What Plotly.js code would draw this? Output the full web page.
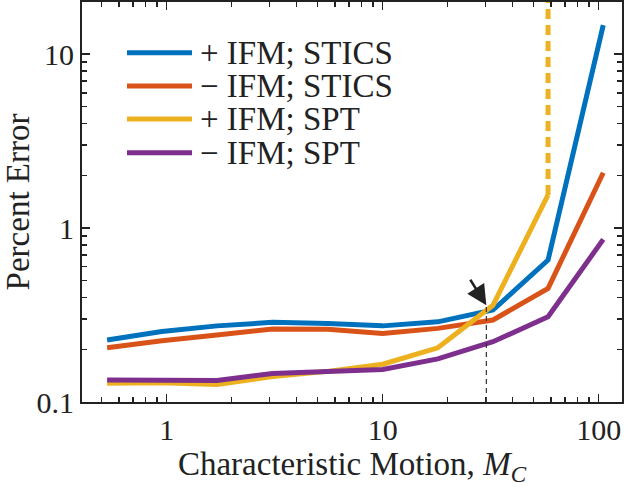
<!DOCTYPE html>
<html>
<head>
<meta charset="utf-8">
<script src="https://cdn.plot.ly/plotly-3.0.1.min.js"></script>
<style>html,body{margin:0;padding:0;background:#fff;}#chart{width:626px;height:487px;}</style>
</head>
<body>
<div id="chart"></div>
<script>
// Characteristic motion values (x)
var motion = [0.53, 0.95, 1.71, 3.09, 5.56, 10, 18, 32.4, 58.3, 105];
// Percent error series
var plusStics  = [0.227, 0.254, 0.274, 0.287, 0.283, 0.274, 0.289, 0.338, 0.655, 14.7];
var minusStics = [0.205, 0.225, 0.243, 0.263, 0.262, 0.248, 0.265, 0.296, 0.45, 2.08];
var plusSpt    = [0.128, 0.129, 0.126, 0.140, 0.150, 0.165, 0.205, 0.36, 1.55];
var minusSpt   = [0.134, 0.134, 0.133, 0.146, 0.151, 0.154, 0.177, 0.222, 0.309, 0.861];
// SPT (+IFM) divergence beyond last point (dashed)
var divergeX = [58.3, 58.3];
var divergeY = [1.55, 1000];
// Marked crossover point
var crossX = [30.2, 30.2];
var crossY = [0.1, 0.36];
var seriesNames = ['+ IFM; STICS', '\u2212 IFM; STICS', '+ IFM; SPT', '\u2212 IFM; SPT'];
var tickVals = [0.1, 1, 10, 100];

var colors = ['#0072BD', '#D95319', '#EDB120', '#7E2F8E'];
var LW = 5;
var FONT = 'Liberation Serif, Times New Roman, serif';

var traces = [
  {x: motion, y: plusStics, mode: 'lines', line: {color: colors[0], width: LW}, name: seriesNames[0]},
  {x: motion, y: minusStics, mode: 'lines', line: {color: colors[1], width: LW}, name: seriesNames[1]},
  {x: motion.slice(0, plusSpt.length), y: plusSpt, mode: 'lines', line: {color: colors[2], width: LW}, name: seriesNames[2]},
  {x: divergeX, y: divergeY, mode: 'lines', line: {color: colors[2], width: LW, dash: '10px,6px'}, showlegend: false},
  {x: motion, y: minusSpt, mode: 'lines', line: {color: colors[3], width: LW}, name: seriesNames[3]},
  {x: crossX, y: crossY, mode: 'lines', line: {color: '#333333', width: 1.2, dash: '5px,4px'}, showlegend: false}
];

// manual legend (tight row spacing)
var legX0 = 0.0833, legX1 = 0.2037, legTextX = 0.2148;
var legY = [0.873, 0.79, 0.7075, 0.623];
var shapes = [], annotations = [];
for (var i = 0; i < seriesNames.length; i++) {
  shapes.push({type: 'line', xref: 'paper', yref: 'paper', x0: legX0, x1: legX1, y0: legY[i], y1: legY[i],
               line: {color: colors[i], width: LW}});
  annotations.push({xref: 'paper', yref: 'paper', x: legTextX, y: legY[i], xanchor: 'left', yanchor: 'middle',
                    text: seriesNames[i], showarrow: false, font: {family: FONT, size: 33, color: '#222'}});
}
// arrow pointing to crossover
annotations.push({x: Math.log10(crossX[1]), y: Math.log10(crossY[1]), xref: 'x', yref: 'y', text: '',
  showarrow: true, arrowhead: 2, arrowsize: 1.6, arrowwidth: 2.5, arrowcolor: '#222', ax: -17, ay: -27, standoff: 0});

var axisCommon = {
  type: 'log', showline: true, linecolor: '#222', linewidth: 2, mirror: 'ticks',
  ticks: 'inside', ticklen: 8, tickwidth: 1.5, tickcolor: '#222', showgrid: false, zeroline: false,
  tickvals: tickVals, ticktext: tickVals.map(String),
  tickfont: {family: FONT, size: 30, color: '#222'},
  minor: {ticks: 'inside', ticklen: 5, tickwidth: 1.5, tickcolor: '#222', dtick: 'D1', showgrid: false}
};

var layout = {
  width: 626, height: 487,
  margin: {l: 82, r: 4, t: 2, b: 85},
  paper_bgcolor: '#fff', plot_bgcolor: '#fff',
  showlegend: false,
  xaxis: Object.assign({}, axisCommon, {range: [-0.392, 2.108],
    title: {text: 'Characteristic Motion, <i>M</i><sub><i>C</i></sub>', font: {family: FONT, size: 33, color: '#222'}, standoff: 4}}),
  yaxis: Object.assign({}, axisCommon, {range: [-1, 1.3],
    title: {text: 'Percent Error', font: {family: FONT, size: 33, color: '#222'}, standoff: 8}}),
  shapes: shapes,
  annotations: annotations
};

Plotly.newPlot('chart', traces, layout, {staticPlot: true, displayModeBar: false});
</script>
</body>
</html>
